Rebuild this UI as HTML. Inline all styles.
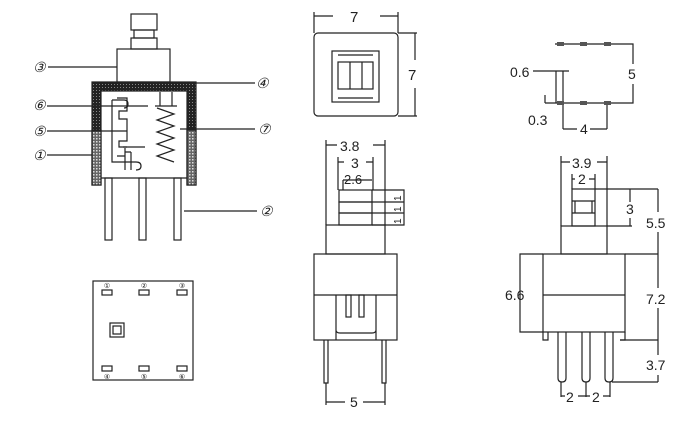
<!DOCTYPE html>
<html><head><style>body{margin:0;background:#fff}svg{display:block}text{font-family:"Liberation Sans",sans-serif;fill:#222}</style></head>
<body>
<svg width="700" height="440" viewBox="0 0 700 440" xmlns="http://www.w3.org/2000/svg">
<defs>
<pattern id="dk" width="3" height="3" patternUnits="userSpaceOnUse"><rect width="3" height="3" fill="#222"/><rect width="1" height="1" fill="#888"/></pattern>
<pattern id="lt" width="3" height="3" patternUnits="userSpaceOnUse"><rect width="3" height="3" fill="#666"/><rect width="1.5" height="1.5" fill="#ddd"/></pattern>
</defs>
<g stroke="#222" stroke-width="1.2" fill="none">
<rect x="131" y="14" width="26" height="16"/>
<rect x="134" y="30" width="20" height="8"/>
<rect x="131" y="38" width="26" height="11"/>
<rect x="117" y="49" width="53" height="33"/>
<path d="M92 82H196V185H187V91H101V185H92Z" fill="url(#dk)" stroke="#222"/>
<rect x="92" y="130" width="9" height="55" fill="url(#lt)"/>
<rect x="187" y="130" width="9" height="55" fill="url(#lt)"/>
<rect x="105" y="178" width="7" height="62"/>
<rect x="139" y="178" width="7" height="62"/>
<rect x="174" y="178" width="7" height="62"/>
<path d="M101 178H187"/>
<path d="M117 98h10v13h-8v8h8v22h-8v6h8"/>
<path d="M112 100h12M112 100v62h24"/>
<path d="M124 100q4 0 4 4q0 4-4 4"/>
<path d="M117 156h8v-8M125 156v10M131 152h-6v18M131 152v18"/>
<path d="M136 162q5 0 5 4q0 4-5 4"/>
<path d="M160 92v14M172 92v14M155 106h22"/>
<path d="M157 108l17 6l-17 6l17 6l-17 6l17 6l-17 6l17 6l-17 6l17 6"/>
<path d="M123 147h22"/>
<path d="M48 67h69M47 106h101M47 131h80M47 155h45M196 83h59M180 129h75M184 211h73"/>
</g>
<g font-style="italic" font-size="14">
<text x="33" y="72">③</text><text x="33" y="110">⑥</text><text x="33" y="136">⑤</text><text x="33" y="160">①</text>
<text x="256" y="88">④</text><text x="258" y="134">⑦</text><text x="260" y="216">②</text>
</g>
<g stroke="#222" stroke-width="1.2" fill="none">
<rect x="93" y="281" width="100" height="99"/>
<rect x="102" y="290" width="10" height="5"/><rect x="139" y="290" width="10" height="5"/><rect x="177" y="290" width="10" height="5"/>
<rect x="102" y="366" width="10" height="5"/><rect x="139" y="366" width="10" height="5"/><rect x="177" y="366" width="10" height="5"/>
<rect x="110" y="323" width="14" height="14"/><rect x="113" y="326" width="8" height="8"/>
</g>
<g font-size="7" text-anchor="middle"><text x="107" y="288">①</text><text x="144" y="288">②</text><text x="182" y="288">③</text><text x="107" y="379">④</text><text x="144" y="379">⑤</text><text x="182" y="379">⑥</text></g>
<g stroke="#222" stroke-width="1.2" fill="none">
<rect x="314" y="33" width="84" height="83" rx="4"/>
<path d="M314 33V12M398 33V12M314 16h19M380 16h18M398 33h19M398 116h19M415 33v27M415 88v28"/>
<rect x="332" y="51" width="47" height="51"/>
<path d="M338 55h35M338 98h35"/>
<rect x="338" y="62" width="35" height="27"/><path d="M350 62v27M362 62v27"/>
</g>
<text x="350" y="22" font-size="15">7</text><text x="408" y="80" font-size="15">7</text>
<g stroke="#222" stroke-width="1.2" fill="none">
<path d="M326 225V140M385 225V140M326 145h11M373 145h12M338 190V157M373 190V157M338 162h6M366 162h7"/>
<rect x="339" y="190" width="33" height="12"/><rect x="339" y="202" width="33" height="11"/><rect x="339" y="213" width="33" height="12"/>
<path d="M343 180h29M343 180v10M372 190h32V225h-32M372 202h32M372 213h32"/>
<rect x="326" y="225" width="59" height="29"/>
<rect x="314" y="254" width="83" height="86"/>
<path d="M314 295h83M336 340V295M376 340V295M336 330q0 3 4 3h32q4 0 4-3"/>
<rect x="346" y="295" width="5" height="22"/><rect x="359" y="295" width="5" height="22"/>
<path d="M324 340v43h4v-43M382 340v43h4v-43M326 383v22M385 383v22M326 402h19M363 402h22"/>
</g>
<text x="340" y="151" font-size="14">3.8</text><text x="351" y="168" font-size="14">3</text><text x="344" y="184" font-size="13">2.6</text>
<g font-size="10"><text transform="translate(401 201) rotate(-90)">1</text><text transform="translate(401 212) rotate(-90)">1</text><text transform="translate(401 224) rotate(-90)">1</text></g>
<text x="350" y="407" font-size="14">5</text>
<g stroke="#222" stroke-width="1.2" fill="none">
<path d="M555 44h78v59h-88M556 71v32h7v-32M533 71h36M545 95v8M563 103v26M607 103v26M563 129h14M590 129h17"/>
</g>
<g fill="#555"><rect x="557" y="42" width="7" height="4"/><rect x="580" y="42" width="7" height="4"/><rect x="604" y="42" width="7" height="4"/><rect x="557" y="101" width="7" height="4"/><rect x="580" y="101" width="7" height="4"/><rect x="604" y="101" width="7" height="4"/></g>
<rect x="626" y="64" width="14" height="20" fill="#fff"/>
<text x="510" y="77" font-size="14">0.6</text><text x="628" y="79" font-size="14">5</text><text x="528" y="125" font-size="14">0.3</text><text x="580" y="134" font-size="14">4</text>
<g stroke="#222" stroke-width="1.2" fill="none">
<path d="M561 226V156M607 226V156M561 162h9M597 162h10M572 189V174M595 189V174M572 179h3M589 179h6"/>
<rect x="572" y="189" width="23" height="37"/><path d="M572 201h23M575 201v12M592 201v12M572 213h23"/>
<rect x="561" y="226" width="46" height="28"/>
<rect x="543" y="254" width="82" height="78"/><path d="M543 295h82"/>
<path d="M595 189h63M607 226h25M630 189v37M625 254h33M658 189v193M620 340h38M612 382h46M543 254h-23v78h23"/>
<path d="M543 332v8h5v-8M625 332v8h-5"/>
<path d="M558 332v46q0 4 4 4t4-4v-46M582 332v46q0 4 4 4t4-4v-46M605 332v46q0 4 4 4t4-4v-46"/>
<path d="M561 382v15M586 382v15M610 382v15M561 396h4M578 396h12M603 396h7"/>
</g>
<g fill="#fff"><rect x="645" y="212" width="26" height="20"/><rect x="645" y="288" width="26" height="20"/><rect x="645" y="355" width="26" height="20"/><rect x="624" y="202" width="12" height="16"/></g>
<text x="572" y="168" font-size="14">3.9</text><text x="578" y="184" font-size="14">2</text>
<text x="626" y="214" font-size="14">3</text><text x="646" y="228" font-size="14">5.5</text>
<text x="505" y="300" font-size="14">6.6</text><text x="646" y="304" font-size="14">7.2</text><text x="646" y="370" font-size="14">3.7</text>
<text x="566" y="402" font-size="14">2</text><text x="592" y="402" font-size="14">2</text>
</svg>
</body></html>
